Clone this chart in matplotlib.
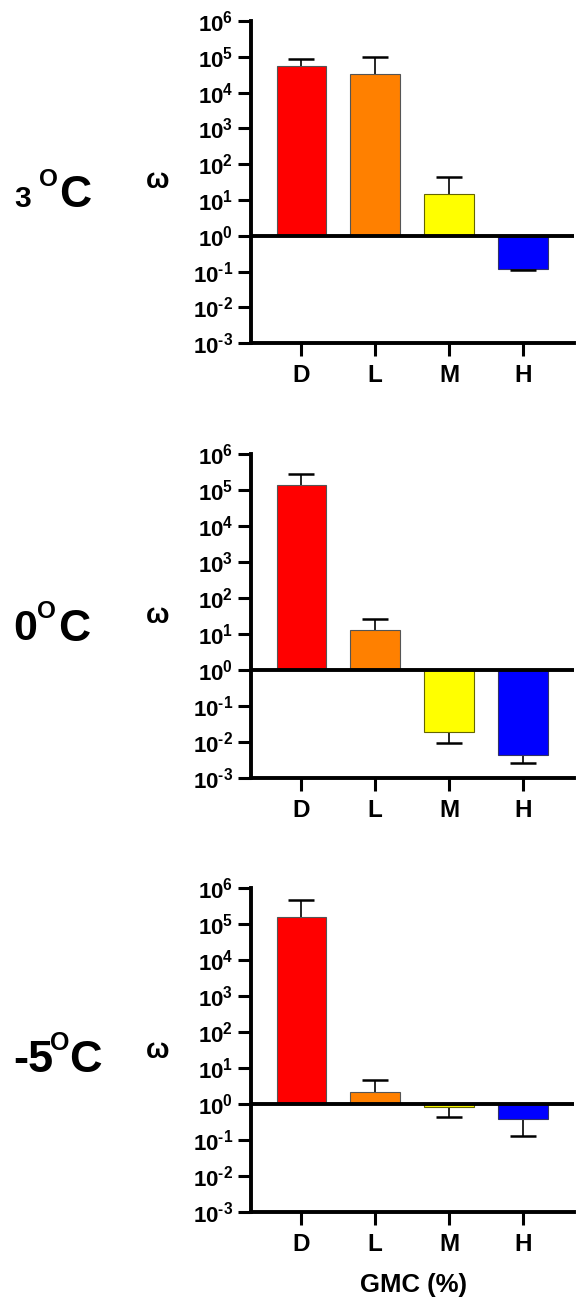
import matplotlib.pyplot as plt
import numpy as np

plt.rcParams['font.family'] = ['Liberation Sans', 'DejaVu Sans']
plt.rcParams['font.weight'] = 'bold'
plt.rcParams['mathtext.fontset'] = 'custom'
plt.rcParams['mathtext.rm'] = 'Liberation Sans:bold'
plt.rcParams['mathtext.bf'] = 'Liberation Sans:bold'
plt.rcParams['mathtext.default'] = 'bf'

# data (bar value, end of the error bar)
categories = ['D', 'L', 'M', 'H']
colors = ['#ff0000', '#ff8000', '#ffff00', '#0000ff']
edge_colors = ['#555555', '#555555', '#666600', '#333366']

omega_3C = [5.6e4, 3.35e4, 15.2, 0.117]
err_end_3C = [8.7e4, 1.0e5, 44, 0.115]

omega_0C = [1.4e5, 13, 0.0186, 0.0044]
err_end_0C = [2.8e5, 26, 0.0093, 0.0025]

omega_m5C = [1.6e5, 2.2, 0.83, 0.39]
err_end_m5C = [4.8e5, 4.7, 0.43, 0.135]

decades = np.arange(-3, 7)

W, H = 576, 1304
fig = plt.figure(figsize=(W / 100, H / 100), dpi=100)


def px(x, y):
    return x / W, 1 - y / H


def dec_label(d):
    s = str(d).replace('-', '\u2010')
    return r'$\mathbf{10^{%s}}$' % s


# axes boxes in pixels: (top, bottom)
boxes = [(21, 343.3), (454, 777.7), (888.3, 1212.3)]
left, right = 251, 574

panels = [(omega_3C, err_end_3C), (omega_0C, err_end_0C), (omega_m5C, err_end_m5C)]
x = np.arange(len(categories))

for (top, bot), (vals, ends) in zip(boxes, panels):
    ax = fig.add_axes([left / W, 1 - bot / H, (right - left) / W, (bot - top) / H])
    ax.set_yscale('log')
    vals = np.array(vals)
    ends = np.array(ends)
    ax.bar(x, vals - 1, bottom=1, width=0.67, color=colors,
           edgecolor=edge_colors, linewidth=0.8, zorder=2)
    # one-sided error bars away from the baseline
    ax.vlines(x, vals, ends, color='black', linewidth=1.2, zorder=1.5)
    ax.hlines(ends, x - 0.173, x + 0.173, color='black', linewidth=1.8, zorder=3)
    ax.axhline(1, color='black', linewidth=2.8, zorder=4)

    ax.set_xlim(-0.68, 3.69)
    ax.set_ylim(1e-3, 1e6)
    ax.set_yticks(10.0 ** decades)
    ax.set_yticklabels([dec_label(d) for d in decades], fontsize=16)
    ax.minorticks_off()
    ax.set_xticks(x)
    ax.set_xticklabels(categories, fontsize=17.5, fontweight='bold')

    for s in ['top', 'right']:
        ax.spines[s].set_visible(False)
    for s in ['left', 'bottom']:
        ax.spines[s].set_linewidth(2.8)
    ax.tick_params(axis='y', length=9.4, width=2.2, pad=3.4)
    ax.tick_params(axis='x', length=9, width=2.2, pad=6)

# temperature labels
temp_parts = [
    [('3', 14, 206.7, 21.5), ('O', 39, 185.5, 17.5), ('C', 59, 206.7, 32)],
    [('0', 13, 640.5, 31), ('O', 37, 618.5, 17.5), ('C', 58, 641, 32)],
    [('-5', 13, 1072, 32.5), ('O', 50, 1050, 18), ('C', 69, 1072, 32.5)],
]
for parts in temp_parts:
    for txt, tx, ty, fs in parts:
        fig.text(*px(tx, ty), txt, fontsize=fs, fontweight='bold', ha='left', va='baseline')

# omega labels
for ty in [188.5, 623.5, 1057.5]:
    fig.text(*px(157.5, ty), '\u03c9', fontsize=20, fontweight='bold', ha='center', va='baseline')

fig.text(*px(414, 1291.7), 'GMC (%)', fontsize=18.5, fontweight='bold', ha='center', va='baseline')

fig.savefig('out.png', dpi=100)
